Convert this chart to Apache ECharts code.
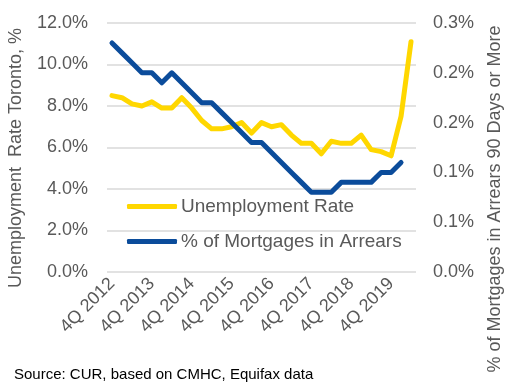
<!DOCTYPE html>
<html>
<head>
<meta charset="utf-8">
<script src="https://cdn.jsdelivr.net/npm/echarts@6/dist/echarts.min.js"></script>
<style>
html,body{margin:0;padding:0;background:#fff;}
#c{width:505px;height:387px;}
</style>
</head>
<body>
<div id="c"></div>
<script>
var quarters = [
  "4Q 2012",
  "1Q 2013","2Q 2013","3Q 2013","4Q 2013",
  "1Q 2014","2Q 2014","3Q 2014","4Q 2014",
  "1Q 2015","2Q 2015","3Q 2015","4Q 2015",
  "1Q 2016","2Q 2016","3Q 2016","4Q 2016",
  "1Q 2017","2Q 2017","3Q 2017","4Q 2017",
  "1Q 2018","2Q 2018","3Q 2018","4Q 2018",
  "1Q 2019","2Q 2019","3Q 2019","4Q 2019",
  "1Q 2020","2Q 2020"
];
var unemploymentRate = [
  8.5, 8.4, 8.1, 8.0, 8.2, 7.9, 7.9, 8.4, 7.9, 7.3,
  6.9, 6.9, 7.0, 7.2, 6.7, 7.2, 7.0, 7.1, 6.6, 6.2,
  6.2, 5.7, 6.3, 6.2, 6.2, 6.6, 5.9, 5.8, 5.6, 7.5,
  11.1
];
var mortgageArrears = [
  0.23, 0.22, 0.21, 0.20, 0.20, 0.19, 0.20, 0.19, 0.18, 0.17,
  0.17, 0.16, 0.15, 0.14, 0.13, 0.13, 0.12, 0.11, 0.10, 0.09,
  0.08, 0.08, 0.08, 0.09, 0.09, 0.09, 0.09, 0.10, 0.10, 0.11,
  null
];
var seriesNames = ["Unemployment Rate", "% of Mortgages in Arrears"];
var leftAxisName = "Unemployment  Rate Toronto, %";
var rightAxisName = "% of Mortgages in Arrears 90 Days or More";
var sourceText = "Source: CUR, based on CMHC, Equifax data";

var FONT = "Liberation Sans, Arial, sans-serif";
var GREY = "#595959";
var YELLOW = "#FFD700";
var BLUE = "#0B4C9B";

var chart = echarts.init(document.getElementById('c'), null, {renderer: 'canvas'});
chart.setOption({
  animation: false,
  backgroundColor: '#fff',
  textStyle: {fontFamily: FONT},
  grid: {left: 107, right: 89, top: 23, bottom: 115, containLabel: false, outerBoundsMode: 'none'},
  legend: {
    orient: 'vertical',
    left: 127,
    top: 196,
    padding: 0,
    itemWidth: 50,
    itemHeight: 5,
    itemGap: 14,
    icon: 'roundRect',
    textStyle: {fontSize: 19, color: GREY, fontFamily: FONT, padding: [0,0,0,-1], lineHeight: 21},
    data: seriesNames
  },
  xAxis: {
    type: 'category',
    data: quarters,
    boundaryGap: true,
    axisLine: {show: false},
    axisTick: {show: false},
    axisLabel: {interval: 3, rotate: 45, fontSize: 18, color: GREY, margin: 9, fontFamily: FONT}
  },
  yAxis: [
    {
      type: 'value', min: 0, max: 12, interval: 2,
      axisLine: {show: false}, axisTick: {show: false},
      axisLabel: {fontSize: 18, color: GREY, margin: 19, fontFamily: FONT,
        formatter: function (v) { return v.toFixed(1) + '%'; }},
      splitLine: {lineStyle: {color: '#D9D9D9', width: 1.5}}
    },
    {
      type: 'value', min: 0, max: 0.25, interval: 0.05,
      axisLine: {show: false}, axisTick: {show: false},
      axisLabel: {fontSize: 18, color: GREY, margin: 17, fontFamily: FONT,
        formatter: function (v) { return (Math.round(v * 10) / 10).toFixed(1) + '%'; }},
      splitLine: {show: false}
    }
  ],
  series: [
    {
      name: seriesNames[0], type: 'line', data: unemploymentRate, yAxisIndex: 0,
      symbol: 'none', color: YELLOW,
      lineStyle: {width: 5, color: YELLOW, join: 'round', cap: 'round'}
    },
    {
      name: seriesNames[1], type: 'line', data: mortgageArrears, yAxisIndex: 1,
      symbol: 'none', color: BLUE,
      lineStyle: {width: 5, color: BLUE, join: 'round', cap: 'round'}
    }
  ],
  graphic: [
    {type: 'text', x: 16, y: 158, rotation: Math.PI / 2,
      style: {text: leftAxisName, fontSize: 18, fill: GREY, fontFamily: FONT, textAlign: 'center', textVerticalAlign: 'middle'}},
    {type: 'text', x: 495, y: 199, rotation: Math.PI / 2,
      style: {text: rightAxisName, fontSize: 18, fill: GREY, fontFamily: FONT, textAlign: 'center', textVerticalAlign: 'middle'}},
    {type: 'text', x: 14, y: 375,
      style: {text: sourceText, fontSize: 15, fill: '#000', fontFamily: FONT, textAlign: 'left', textVerticalAlign: 'middle'}}
  ]
});
</script>
</body>
</html>
